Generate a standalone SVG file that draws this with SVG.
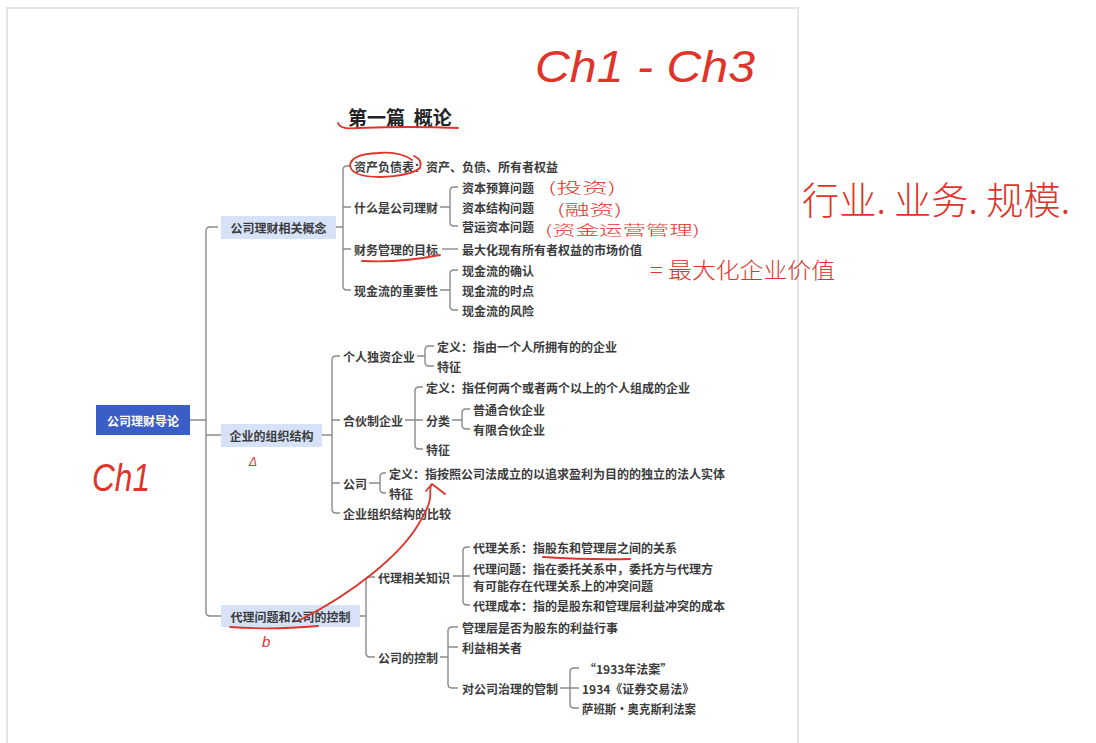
<svg xmlns="http://www.w3.org/2000/svg" width="1096" height="743" viewBox="0 0 1096 743">
<style>
.t{font-family:"Noto Sans CJK SC","Liberation Sans",sans-serif;font-size:12px;font-weight:bold;fill:#3c3c3c;dominant-baseline:central}
.r{font-family:"Noto Sans CJK SC","Liberation Sans",sans-serif;font-size:12px;font-weight:bold;fill:#fff;dominant-baseline:central}
.c{fill:none;stroke:#8a8a8a;stroke-width:1.4}
.l1{fill:#d6e2f8}
.h{fill:none;stroke:#e0342a;stroke-width:1.8;stroke-linecap:round;stroke-linejoin:round}
.hw{font-family:"Liberation Sans","Noto Sans CJK SC",sans-serif;fill:#e0342a;font-style:italic;dominant-baseline:central}
.hz{font-family:"Noto Sans CJK SC",sans-serif;fill:#e0342a;font-weight:300;dominant-baseline:central}
</style>
<rect x="0" y="0" width="1096" height="743" fill="#fff"/>
<rect x="7" y="8" width="791" height="740" fill="#fff" stroke="#e4e4e4" stroke-width="2"/>

<text id="title" x="348" y="116" font-family="Noto Sans CJK SC,sans-serif" font-size="19" font-weight="bold" fill="#222" dominant-baseline="central" xml:space="preserve">第一篇  概论</text>

<g id="connectors">
<path class="c" d="M190,420 H206 M218,227 H210 Q206,227 206,231 V612 Q206,616 210,616 H221 M206,435 H221"/>
<path class="c" d="M336,227 H343 M351,166 H347 Q343,166 343,170 V286 Q343,290 347,290 H351 M343,207 H351 M343,249 H351"/>
<path class="c" d="M440,207 H450 M458,187 H454 Q450,187 450,191 V222 Q450,226 454,226 H458"/>
<path class="c" d="M442,249 H458"/>
<path class="c" d="M440,290 H450 M458,270 H454 Q450,270 450,274 V306 Q450,310 454,310 H458"/>
<path class="c" d="M322,435 H332 M340,356 H336 Q332,356 332,360 V509 Q332,513 336,513 H340 M332,420 H340 M332,483 H340"/>
<path class="c" d="M417,356 H425 M434,346 H429 Q425,346 425,350 V362 Q425,366 429,366 H434"/>
<path class="c" d="M405,420 H415 M423,387 H419 Q415,387 415,391 V445 Q415,449 419,449 H423 M415,420 H423"/>
<path class="c" d="M452,420 H462 M470,409 H466 Q462,409 462,413 V425 Q462,429 466,429 H470"/>
<path class="c" d="M369,483 H380 M386,473 H384 Q380,473 380,477 V489 Q380,493 384,493 H386"/>
<path class="c" d="M360,616 H366 M375,577 H370 Q366,577 366,581 V653 Q366,657 370,657 H375"/>
<path class="c" d="M453,576 H470 M470,547 H467 Q463,547 463,551 V601 Q463,605 467,605 H470"/>
<path class="c" d="M440,657 H448 M458,627 H452 Q448,627 448,631 V684 Q448,688 452,688 H458 M448,647 H458"/>
<path class="c" d="M560,688 H579 M579,668 H574 Q570,668 570,672 V704 Q570,708 574,708 H579"/>
</g>

<g id="root"><rect x="96" y="405" width="94" height="30" fill="#3b5dc6"/><text class="r" x="143" y="420" text-anchor="middle">公司理财导论</text></g>

<g id="n1"><rect class="l1" x="221" y="216" width="115" height="23"/><text class="t" x="278.5" y="227.5" text-anchor="middle">公司理财相关概念</text></g>
<g id="n1a"><text class="t" x="354" y="166">资产负债表：资产、负债、所有者权益</text></g>
<g id="n1b"><text class="t" x="354" y="207">什么是公司理财</text></g>
<g id="n1b1"><text class="t" x="462" y="187">资本预算问题</text></g>
<g id="n1b2"><text class="t" x="462" y="207">资本结构问题</text></g>
<g id="n1b3"><text class="t" x="462" y="226">营运资本问题</text></g>
<g id="n1c"><text class="t" x="354" y="249">财务管理的目标</text></g>
<g id="n1c1"><text class="t" x="462" y="249">最大化现有所有者权益的市场价值</text></g>
<g id="n1d"><text class="t" x="354" y="290">现金流的重要性</text></g>
<g id="n1d1"><text class="t" x="462" y="270">现金流的确认</text></g>
<g id="n1d2"><text class="t" x="462" y="290">现金流的时点</text></g>
<g id="n1d3"><text class="t" x="462" y="310">现金流的风险</text></g>

<g id="n2"><rect class="l1" x="221" y="424" width="101" height="23"/><text class="t" x="271.5" y="435.5" text-anchor="middle">企业的组织结构</text></g>
<g id="n2a"><text class="t" x="343" y="356">个人独资企业</text></g>
<g id="n2a1"><text class="t" x="437" y="346">定义：指由一个人所拥有的的企业</text></g>
<g id="n2a2"><text class="t" x="437" y="366">特征</text></g>
<g id="n2b"><text class="t" x="343" y="420">合伙制企业</text></g>
<g id="n2b1"><text class="t" x="426" y="387">定义：指任何两个或者两个以上的个人组成的企业</text></g>
<g id="n2b2"><text class="t" x="426" y="420">分类</text></g>
<g id="n2b21"><text class="t" x="473" y="409">普通合伙企业</text></g>
<g id="n2b22"><text class="t" x="473" y="429">有限合伙企业</text></g>
<g id="n2b3"><text class="t" x="426" y="449">特征</text></g>
<g id="n2c"><text class="t" x="343" y="483">公司</text></g>
<g id="n2c1"><text class="t" x="389" y="473">定义：指按照公司法成立的以追求盈利为目的的独立的法人实体</text></g>
<g id="n2c2"><text class="t" x="389" y="493">特征</text></g>
<g id="n2d"><text class="t" x="343" y="513">企业组织结构的比较</text></g>

<g id="n3"><rect class="l1" x="221" y="605" width="139" height="22"/><text class="t" x="290.5" y="616" text-anchor="middle">代理问题和公司的控制</text></g>
<g id="n3a"><text class="t" x="378" y="577">代理相关知识</text></g>
<g id="n3a1"><text class="t" x="473" y="547">代理关系：指股东和管理层之间的关系</text></g>
<g id="n3a2"><text class="t"><tspan x="473" y="567.5">代理问题：指在委托关系中，委托方与代理方</tspan><tspan x="473" y="584.5">有可能存在代理关系上的冲突问题</tspan></text></g>
<g id="n3a3"><text class="t" x="473" y="605">代理成本：指的是股东和管理层利益冲突的成本</text></g>
<g id="n3b"><text class="t" x="378" y="657">公司的控制</text></g>
<g id="n3b1"><text class="t" x="462" y="627">管理层是否为股东的利益行事</text></g>
<g id="n3b2"><text class="t" x="462" y="647">利益相关者</text></g>
<g id="n3b3"><text class="t" x="462" y="688">对公司治理的管制</text></g>
<g id="n3b31"><text class="t" x="584" y="668">“1933年法案”</text></g>
<g id="n3b32"><text class="t" x="582" y="688">1934《证券交易法》</text></g>
<g id="n3b33"><text class="t" x="582" y="708" textLength="114" lengthAdjust="spacingAndGlyphs">萨班斯·奥克斯利法案</text></g>

<g id="annotations">
<path class="h" d="M338,123 Q340,130 358,128 Q410,126 458,128"/>
<path class="h" d="M412,160 Q400,151 378,153 Q352,154 350,165 Q351,177 380,177 Q410,176 420,168 Q423,160 414,156"/>
<path class="h" d="M362,261 Q400,263 440,255"/>
<path class="h" d="M230,627 Q270,630 318,626"/>
<path class="h" d="M543,557 Q590,560 630,559"/>
<path class="h" d="M300,620 C355,592 400,555 418,525 S428,497 431,485"/>
<path class="h" d="M426,491 L432,484 L445,494"/>
<text class="hw" x="535" y="66" font-size="44" font-weight="300" textLength="220" lengthAdjust="spacingAndGlyphs">Ch1 -  Ch3</text>
<text class="hw" x="92" y="478" font-size="38" textLength="58" lengthAdjust="spacingAndGlyphs">Ch1</text>
<text class="hw" x="249" y="462" font-size="12">Δ</text>
<text class="hw" x="262" y="641" font-size="15">b</text>
<text class="hz" x="548" y="186" font-size="15" textLength="68" lengthAdjust="spacingAndGlyphs">(投资)</text>
<text class="hz" x="557" y="208" font-size="15" textLength="65" lengthAdjust="spacingAndGlyphs">(融资)</text>
<text class="hz" x="545" y="229" font-size="14" textLength="155" lengthAdjust="spacingAndGlyphs">(资金运营管理)</text>
<text class="hz" x="650" y="268" font-size="22" textLength="185" lengthAdjust="spacingAndGlyphs">= 最大化企业价值</text>
<text class="hz" x="802" y="197" font-size="38" textLength="268" lengthAdjust="spacingAndGlyphs">行业. 业务. 规模.</text>
</g>
</svg>
